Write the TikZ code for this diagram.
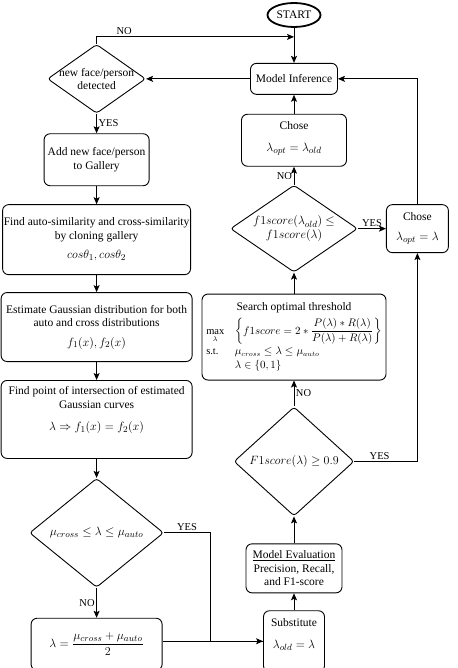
\documentclass[tikz,border=0pt]{standalone}
\usepackage{amsmath}
\usepackage{fontspec}
\setmainfont{Liberation Serif}
\usetikzlibrary{positioning,shapes.geometric,arrows.meta}

\newcommand{\mth}[1]{{\fontsize{12.5}{15}\selectfont$#1$}}

\begin{document}
\begin{tikzpicture}[
      x=1pt, y=1pt,
      nodes={font=\fontsize{11.5}{13.5}\selectfont, align=center},
      block/.style={draw, rounded corners=6pt, inner sep=1pt},
      decision/.style={draw, diamond, rounded corners=3pt, inner sep=-20pt},
      startnode/.style={draw, ellipse, line width=1.8pt, inner sep=0pt,
        minimum width=53pt, minimum height=24pt},
      lbl/.style={font=\fontsize{10.5}{12}\selectfont, inner sep=1.5pt},
      line width=0.9pt, >={Stealth[length=7pt,width=6pt,inset=1.5pt]}
      ]

  \useasboundingbox (0,0) rectangle (457,-668);

  \node[startnode] at (294,-15) (start) {START};
  \node[block, minimum width=87pt, minimum height=31pt, below = 35pt of start] (infer) {Model Inference};
  \node[block, minimum width=105pt, minimum height=52pt, below = 19pt of infer] (optold) {Chose\\[9pt]\mth{\lambda_{opt} = \lambda_{old}}\\[-6pt]\mbox{}};
  \node[decision, minimum width=127pt, minimum height=87pt, below = 18pt of optold] (cmp) {\mth{f1score(\lambda_{old}) \le}\\\mth{f1score(\lambda)}};
  \node[block, minimum width=62pt, minimum height=48pt, right = 28pt of cmp] (optnew) {Chose\\[7pt]\mth{\lambda_{opt} = \lambda}\\[-9pt]\mbox{}};
  \node[block, minimum width=184pt, minimum height=86pt, inner ysep=0pt, below = 21pt of cmp] (search) {Search optimal threshold\\[5pt]
    {\fontsize{10.5}{12}\selectfont$\begin{array}{@{}l@{\quad}l@{}}
      \max\limits_{\lambda} & \left\{ f1score = 2*\dfrac{P(\lambda)*R(\lambda)}{P(\lambda)+R(\lambda)} \right\}\\[8pt]
      \text{s.t.} & \mu_{cross} \le \lambda \le \mu_{auto}\\[2pt]
      & \lambda \in \{0,1\}
    \end{array}$}};
  \node[decision, minimum width=120pt, minimum height=109pt, below = 26pt of search] (thr) {\mth{F1score(\lambda) \ge 0.9}};
  \node[block, minimum width=96pt, minimum height=49pt, below = 27pt of thr] (eval) {\underline{Model Evaluation}\\Precision, Recall,\\and F1-score};
  \node[block, minimum width=61pt, minimum height=61pt, below = 17pt of eval] (subst) {Substitute\\[9pt]\mth{\lambda_{old} = \lambda}\\[2pt]\mbox{}};

  \node[decision, minimum width=98pt, minimum height=69pt, left = 104pt of infer] (detect) {new face/person\\detected};
  \node[block, minimum width=105pt, minimum height=52pt, below = 19.5pt of detect] (add) {Add new face/person\\to Gallery};
  \node[block, minimum width=188pt, minimum height=70pt, below = 18pt of add] (clone) {Find auto-similarity and cross-similarity\\by cloning gallery\\[6pt]\mth{cos\theta_1, cos\theta_2}};
  \node[block, minimum width=191pt, minimum height=69pt, below = 17pt of clone] (gauss) {Estimate Gaussian distribution for both\\auto and cross distributions\\[6pt]\mth{f_1(x), f_2(x)}};
  \node[block, minimum width=191pt, minimum height=78pt, below = 18pt of gauss] (inter) {Find point of intersection of estimated\\Gaussian curves\\[9pt]\mth{\lambda \Rightarrow f_1(x) = f_2(x)}\\[8pt]\mbox{}};
  \node[decision, minimum width=134pt, minimum height=109pt, below = 19pt of inter] (range) {\mth{\mu_{cross} \le \lambda \le \mu_{auto}}};
  \node[block, minimum width=131pt, minimum height=52pt, below = 30pt of range] (mean) {\mth{\lambda = \dfrac{\mu_{cross} + \mu_{auto}}{2}}};

  \coordinate[below = 9pt of start] (join);

  % Connect the nodes
  \draw[->] (start) -- (infer);
  \draw[->] (detect.north) |- node[pos=0.57, above, lbl] {NO} (join);
  \draw[->] (infer) -- (detect);
  \draw[->] (detect) -- node[right, lbl] {YES} (add);
  \draw[->] (add) -- (clone);
  \draw[->] (clone) -- (gauss);
  \draw[->] (gauss) -- (inter);
  \draw[->] (inter) -- (range);
  \draw[->] (range) -- node[left, lbl] {NO} (mean);
  \draw (range.east) -- node[above, lbl] {YES} ++(46,0) |- (subst.west);
  \draw[->] (mean.east |- subst.west) -- (subst.west);
  \draw[->] (subst) -- (eval);
  \draw[->] (eval) -- (thr);
  \draw[->] (thr) -- node[right, lbl] {NO} (search);
  \draw[->] (thr.east) -| node[pos=0.2, above, lbl] {YES} (optnew.south);
  \draw[->] (search) -- (cmp);
  \draw[->] (cmp) -- node[above, lbl] {YES} (optnew);
  \draw[->] (cmp) -- node[left, lbl] {NO} (optold);
  \draw[->] (optold) -- (infer);
  \draw[->] (optnew.north) |- (infer.east);

\end{tikzpicture}
\end{document}
